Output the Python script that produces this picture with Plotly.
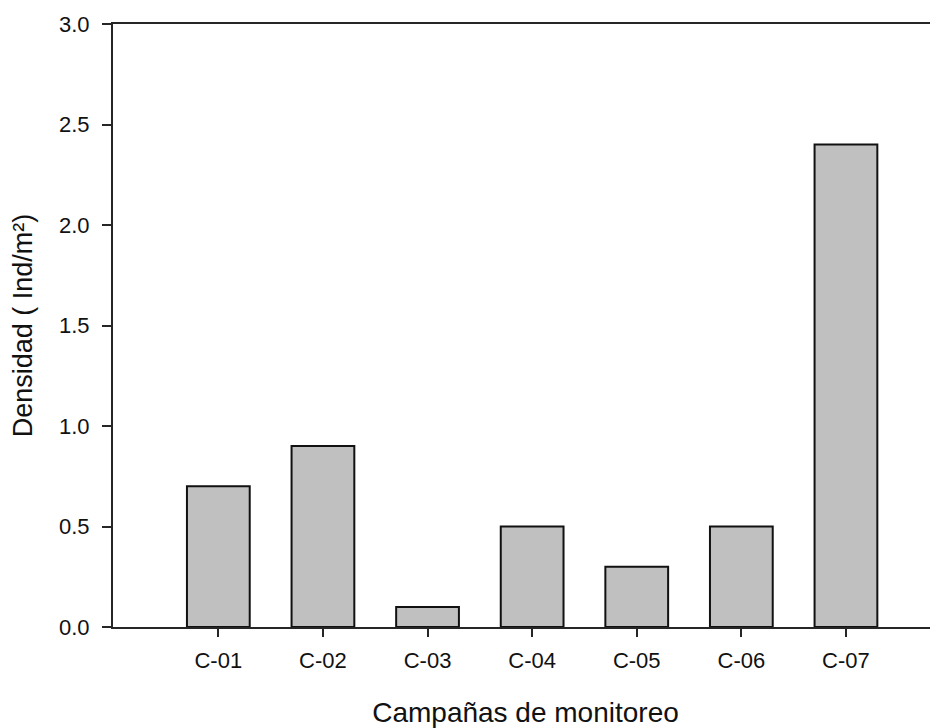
import plotly.graph_objects as go

categories = ["C-01", "C-02", "C-03", "C-04", "C-05", "C-06", "C-07"]
densidad = [0.7, 0.9, 0.1, 0.5, 0.3, 0.5, 2.4]
y_ticks = [0.0, 0.5, 1.0, 1.5, 2.0, 2.5, 3.0]

FONT = "Liberation Sans, Arial, sans-serif"
AXIS_COLOR = "#262626"

fig = go.Figure()
fig.add_trace(go.Bar(
    x=categories,
    y=densidad,
    width=0.6,
    marker=dict(color="#c0c0c0", line=dict(color="#111111", width=2)),
))

# page body has an 8px default margin, so the figure is compensated
fig.update_layout(
    width=930,
    height=720,
    margin=dict(l=105, r=0, t=16, b=101),
    paper_bgcolor="white",
    plot_bgcolor="white",
    showlegend=False,
    font=dict(family=FONT, color="#111111"),
    xaxis=dict(
        type="category",
        range=[-1.007, 6.88],
        showgrid=False,
        zeroline=False,
        showline=True,
        linecolor=AXIS_COLOR,
        linewidth=2,
        mirror=True,
        ticks="outside",
        ticklen=8,
        tickwidth=2,
        tickcolor=AXIS_COLOR,
        tickfont=dict(size=22, family=FONT, color="#111111"),
        ticklabelstandoff=5,
        title=dict(text="Campañas de monitoreo", font=dict(size=28, family=FONT, color="#111111"), standoff=31),
    ),
    yaxis=dict(
        range=[0, 3.0],
        tickvals=y_ticks,
        tickformat=".1f",
        showgrid=False,
        zeroline=False,
        showline=True,
        linecolor=AXIS_COLOR,
        linewidth=2,
        ticks="outside",
        ticklen=9,
        tickwidth=2,
        tickcolor=AXIS_COLOR,
        tickfont=dict(size=22, family=FONT, color="#111111"),
        ticklabelstandoff=8,
        title=dict(text="Densidad ( Ind/m²)", font=dict(size=27, family=FONT, color="#111111"), standoff=20),
    ),
)

fig.write_html("out.html")
